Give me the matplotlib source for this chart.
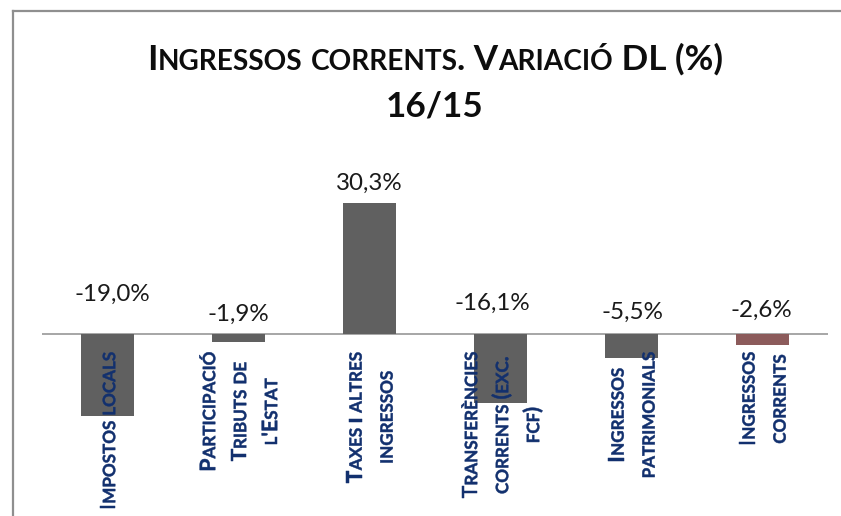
import matplotlib
matplotlib.use("Agg")
import matplotlib.pyplot as plt
import matplotlib.transforms as mtrans
from matplotlib.font_manager import fontManager, FontProperties
from matplotlib.lines import Line2D
from matplotlib.patches import PathPatch
from matplotlib.textpath import TextPath
from matplotlib.transforms import IdentityTransform

# data
categories = ["Impostos locals", "Participació\nTributs de\nl'Estat",
              "Taxes i altres\ningressos", "Transferències\ncorrents (exc.\nfcf)",
              "Ingressos\npatrimonials", "Ingressos\ncorrents"]
values = [-19.0, -1.9, 30.3, -16.1, -5.5, -2.6]
title_lines = ["Ingressos corrents. Variació DL (%)", "16/15"]

# look
installed = {f.name for f in fontManager.ttflist}
FONT = next((f for f in ["Lato", "Open Sans", "DejaVu Sans"] if f in installed), "DejaVu Sans")
bar_colors = ["#606060"] * 5 + ["#8C5B5B"]
label_color = "#12306E"
SC = 0.8                      # small caps ratio
label_dx = [5, 0, 0, -8, 1, -1]           # px shift of value labels
label_dy = [33.5, 13.5, 14, 24.5, 15.5, 17.5]  # px baseline above bar end / zero

W, H = 841, 516
fig = plt.figure(figsize=(W / 100, H / 100), dpi=100)
ppu = 4.31
ax = fig.add_axes([42 / W, 0, 786 / W, 366 / H])
ax.set_xlim(-0.5, len(values) - 0.5)
ax.set_ylim(-182 / ppu, 184 / ppu)
ax.axis("off")
x = list(range(len(values)))
ax.bar(x, values, width=0.4, color=bar_colors, zorder=2)
ax.axhline(0, color="#a6a6a6", lw=1.4, zorder=1)

# chart frame (cut at right/bottom)
fig.add_artist(Line2D([13 / W, 13 / W], [0, 1 - 11 / H], transform=fig.transFigure,
                      color="#8f8f8f", lw=1.6))
fig.add_artist(Line2D([13 / W, 1], [1 - 11 / H, 1 - 11 / H], transform=fig.transFigure,
                      color="#8f8f8f", lw=1.6))

rend = fig.canvas.get_renderer()


def text_w(s, size, weight):
    t = fig.text(0, 0, s, fontsize=size, fontweight=weight, family=FONT)
    w = t.get_window_extent(renderer=rend).width
    t.remove()
    return w


def runs(s):
    out = []
    for ch in s:
        small = ch.islower()
        c = ch.upper() if small else ch
        if out and out[-1][1] == small:
            out[-1][0] += c
        else:
            out.append([c, small])
    return out


def advances(s, size, weight):
    rr = runs(s)
    res = []
    for k, (txt, small) in enumerate(rr):
        fs = size * SC if small else size
        nxt = rr[k + 1][0][0] if k + 1 < len(rr) else "H"
        if nxt == " ":
            nxt = "H"
        # advance incl. kerning with the next run's first letter
        w = text_w("H" + txt + nxt, fs, weight) - text_w("H" + nxt, fs, weight)
        res.append((txt, fs, w))
    return res


def line_len(s, size, weight):
    return sum(a[2] for a in advances(s, size, weight))


def draw_sc(s, x0, y0, size, weight, color):
    pos = 0.0
    for txt, fs, w in advances(s, size, weight):
        fig.text(x0 + pos, y0, txt, fontsize=fs, fontweight=weight,
                 family=FONT, color=color, ha="left", va="baseline",
                 transform=IdentityTransform())
        pos += w


def draw_sc_up(s, x0, y0, size, weight, color):
    # rotated text drawn as glyph paths so the runs join up exactly
    prop = FontProperties(family=FONT, weight=weight)
    pos = 0.0
    for txt, fs, w in advances(s, size, weight):
        if txt.strip():
            tp = TextPath((0, 0), txt, size=fs * 100 / 72, prop=prop)
            tr = mtrans.Affine2D().rotate_deg(90).translate(x0, y0 + pos)
            fig.add_artist(PathPatch(tr.transform_path(tp), facecolor=color,
                                     edgecolor=color, lw=0.35,
                                     transform=IdentityTransform()))
        pos += w


# title
tsize = 10 * 575 / line_len(title_lines[0], 10, "bold")
for line, base in zip(title_lines, [70, 117]):
    L = line_len(line, tsize, "bold")
    draw_sc(line, 435 - L / 2, H - base, tsize, "bold", "#0d0d0d")

# category labels
csize = 10 * 158 / line_len(categories[0], 10, "bold")
cap_half = 0.36 * csize * 100 / 72
for i, lab in enumerate(categories):
    lines = lab.split("\n")
    lens = [line_len(l, csize, "bold") for l in lines]
    cx = ax.transData.transform((i, 0))[0]
    cy = H - (352 + max(lens) / 2)
    n = len(lines)
    for j, (l, L) in enumerate(zip(lines, lens)):
        bx = cx + (j - (n - 1) / 2) * 31 + cap_half
        draw_sc_up(l, bx, cy - L / 2, csize, "bold", label_color)

# value labels
vsize = 1.08 * 10 * 70 / text_w("-19,0%", 10, "normal")
for i, v in enumerate(values):
    px, py = ax.transData.transform((i, max(v, 0)))
    fig.text(px + label_dx[i], py + label_dy[i], f"{v:.1f}%".replace(".", ","),
             fontsize=vsize, family=FONT, color="#1a1a1a", ha="center", va="baseline",
             transform=IdentityTransform())

fig.savefig("out.png", dpi=100)
